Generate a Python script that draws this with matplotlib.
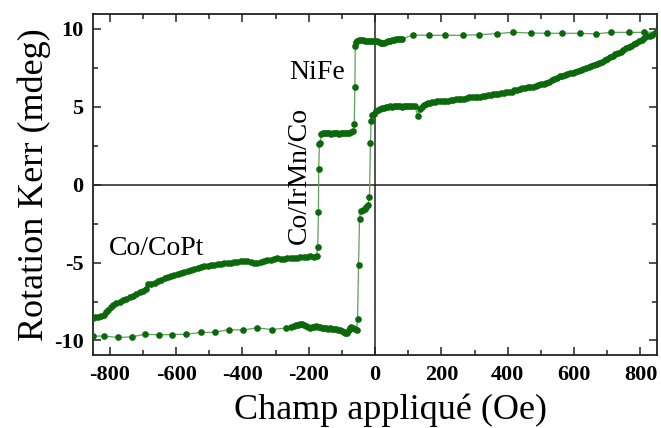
import matplotlib
matplotlib.use("Agg")
import matplotlib.pyplot as plt
from matplotlib.ticker import MultipleLocator

# Descending branch (field swept from +850 Oe to -850 Oe)
desc_x = [850, 812, 765, 711, 665, 617, 564, 517, 469, 415, 368, 313, 265, 211, 163, 114,
          80, 74, 68, 62, 56, 50, 44, 38, 32, 26, 22, 18, 12, 6, 0, -6, -12, -18, -24, -30,
          -36, -42, -48, -54, -58, -60, -61, -63, -66, -72, -78, -84, -90, -96, -102, -108,
          -114, -120, -126, -132, -138, -144, -150, -156, -162, -166, -168, -170, -171, -173,
          -176, -185, -195, -205, -215, -225, -235, -245, -255, -265, -275, -285, -295, -305,
          -315, -325, -335, -345, -355, -365, -375, -385, -395, -405, -415, -425, -435, -445,
          -455, -465, -475, -485, -495, -505, -515, -525, -535, -545, -555, -565, -575, -585,
          -595, -605, -615, -625, -635, -645, -655, -665, -675, -685, -692, -700, -710, -720,
          -730, -740, -750, -760, -770, -780, -790, -797, -805, -812, -818, -825, -835, -845,
          -852]
desc_y = [9.80, 9.78, 9.78, 9.78, 9.68, 9.72, 9.72, 9.72, 9.74, 9.78, 9.70, 9.63, 9.59, 9.59,
          9.59, 9.61,
          9.36, 9.35, 9.33, 9.33, 9.30, 9.28, 9.25, 9.20, 9.15, 9.10, 9.08, 9.10, 9.15, 9.20,
          9.22, 9.22, 9.24, 9.22, 9.22, 9.25, 9.28, 9.27, 9.30, 9.25, 9.15, 8.88, 6.27, 3.89,
          3.45, 3.38, 3.35, 3.30, 3.32, 3.35, 3.30, 3.25, 3.30, 3.35, 3.32, 3.28, 3.30, 3.35,
          3.32, 3.30, 3.25, 2.67, 2.62, 1.02, -1.73, -3.98,
          -4.55, -4.62, -4.60, -4.63, -4.66, -4.62, -4.68, -4.70, -4.68, -4.72, -4.78, -4.75,
          -4.72, -4.80, -4.84, -4.82, -4.90, -4.98, -5.05, -5.02, -4.95, -4.90, -4.88, -4.92,
          -4.95, -4.98, -5.02, -5.02, -5.05, -5.08, -5.10, -5.15, -5.18, -5.20, -5.22, -5.28,
          -5.35, -5.42, -5.50, -5.55, -5.62, -5.68, -5.75, -5.82, -5.88, -5.95, -6.02, -6.10,
          -6.18, -6.32, -6.35, -6.38, -6.70, -6.82, -6.92, -7.05, -7.15, -7.22, -7.32, -7.42,
          -7.52, -7.62, -7.75, -7.88, -8.05, -8.20, -8.35, -8.45, -8.48, -8.52, -8.55]

# Ascending branch (field swept from -850 Oe to +850 Oe)
asc_x = [-852, -817, -774, -734, -693, -651, -611, -570, -524, -482, -440, -399, -357, -311,
         -268, -255, -245, -238, -232, -226, -220, -214, -208, -202, -196, -190, -184, -178,
         -172, -166, -160, -154, -148, -142, -136, -130, -124, -118, -112, -106, -100, -94,
         -90, -86, -80, -76, -72, -66, -60, -56, -53, -50, -47, -44, -38, -32, -27, -22, -17,
         -14, -12, -8, -2, 4, 10, 16, 22, 28, 34, 40, 46, 52, 58, 64, 70, 76, 82, 88, 94, 100,
         106, 112, 119, 129, 134, 140, 146, 152, 158, 165, 172, 180, 188, 196, 204, 212, 220,
         228, 236, 244, 252, 260, 268, 276, 284, 292, 300, 308, 316, 324, 332, 340, 348, 356,
         364, 372, 380, 388, 396, 404, 412, 420, 428, 436, 444, 452, 460, 468, 476, 484, 492,
         500, 508, 516, 524, 532, 540, 548, 556, 564, 572, 580, 588, 596, 604, 612, 620, 628,
         636, 644, 652, 660, 668, 676, 684, 692, 700, 708, 716, 724, 732, 740, 748, 756, 764,
         772, 780, 788, 796, 804, 812, 820, 828, 836, 844, 850]
asc_y = [-9.72, -9.72, -9.81, -9.77, -9.60, -9.64, -9.62, -9.60, -9.49, -9.47, -9.30, -9.34,
         -9.19, -9.30, -9.20, -9.15, -9.05, -9.00, -9.00, -8.95, -8.92, -9.00, -9.10, -9.15,
         -9.18, -9.15, -9.12, -9.10, -9.12, -9.15, -9.18, -9.20, -9.22, -9.24, -9.22, -9.25,
         -9.28, -9.28, -9.30, -9.32, -9.38, -9.45, -9.55, -9.50, -9.35, -9.20, -9.12, -9.20,
         -9.25, -9.30, -8.65, -5.16, -2.22, -1.66, -1.62, -1.58, -1.45, -1.30, -0.76, 2.67,
         4.06, 4.45, 4.55, 4.70, 4.80, 4.85, 4.90, 4.95, 4.96, 5.00, 5.02, 4.98, 5.05, 5.07,
         5.05, 5.03, 5.00, 5.04, 5.02, 5.05, 5.07, 5.06, 5.07, 4.42, 4.86, 5.00, 5.12, 5.18,
         5.22, 5.25, 5.28, 5.32, 5.36, 5.40, 5.38, 5.36, 5.40, 5.43, 5.45, 5.48, 5.50, 5.52,
         5.53, 5.56, 5.60, 5.62, 5.64, 5.66, 5.66, 5.70, 5.70, 5.74, 5.78, 5.82, 5.85, 5.85,
         5.88, 5.90, 5.92, 5.95, 5.98, 6.05, 6.10, 6.15, 6.20, 6.22, 6.25, 6.28, 6.24, 6.33,
         6.40, 6.44, 6.48, 6.55, 6.62, 6.70, 6.78, 6.88, 6.95, 7.00, 7.05, 7.10, 7.15, 7.18,
         7.25, 7.30, 7.36, 7.42, 7.48, 7.55, 7.62, 7.68, 7.75, 7.82, 7.90, 7.98, 8.08, 8.18,
         8.28, 8.36, 8.45, 8.55, 8.65, 8.75, 8.85, 8.92, 9.00, 9.10, 9.20, 9.32, 9.42, 9.52,
         9.56, 9.64, 9.73, 9.82]

x_ticks = [-800, -600, -400, -200, 0, 200, 400, 600, 800]
y_ticks = [-10, -5, 0, 5, 10]
labels = [("NiFe", -175, 6.8, 0), ("Co/IrMn/Co", -228, 0.6, 90), ("Co/CoPt", -658, -4.5, 0)]

serif = ["Liberation Serif", "DejaVu Serif"]
plt.rcParams['font.family'] = serif
plt.rcParams['mathtext.fontset'] = 'dejavuserif'

fig = plt.figure(figsize=(6.61, 4.28), dpi=100)
ax = fig.add_axes([0.141, 0.170, 0.853, 0.797])

ax.axhline(0, color='#222222', lw=1.1, zorder=1)
ax.axvline(0, color='#222222', lw=1.1, zorder=1)

dark = '#0b680b'
light = '#5fa05f'
for xs, ys in ((desc_x, desc_y), (asc_x, asc_y)):
    ax.plot(xs, ys, '-', color=light, lw=0.9, zorder=2)
    ax.plot(xs, ys, 'o', color=dark, ms=4.8, mec=dark, mew=0, zorder=3)

ax.set_xlim(-850, 850)
ax.set_ylim(-10.95, 10.95)
ax.set_xticks(x_ticks)
ax.set_yticks(y_ticks)
ax.set_xticklabels([str(v) for v in x_ticks])
ax.set_yticklabels([str(v) for v in y_ticks])
ax.xaxis.set_minor_locator(MultipleLocator(100))
ax.yaxis.set_minor_locator(MultipleLocator(2.5))
ax.tick_params(which='both', direction='in', top=True, right=True, color='#222222', width=1.1)
ax.tick_params(which='major', length=6, pad=7)
ax.tick_params(which='minor', length=3.5)
for lab in ax.get_xticklabels() + ax.get_yticklabels():
    lab.set_fontweight('bold')
    lab.set_fontsize(16)
for s in ax.spines.values():
    s.set_linewidth(1.3)
    s.set_color('#222222')

ax.set_xlabel("Champ appliqué (Oe)", fontsize=26)
ax.xaxis.set_label_coords(0.527, -0.112, transform=ax.transAxes)
ax.xaxis.label.set_va('top')
ax.set_ylabel("Rotation Kerr (mdeg)", fontsize=26, labelpad=2)

for txt, x, y, rot in labels:
    if rot == 0:
        ax.text(x, y, txt, fontsize=20, ha='center', va='baseline')
    else:
        ax.text(x, y, txt, fontsize=20, ha='center', va='center', rotation=90)

fig.savefig("out.png", dpi=100)
